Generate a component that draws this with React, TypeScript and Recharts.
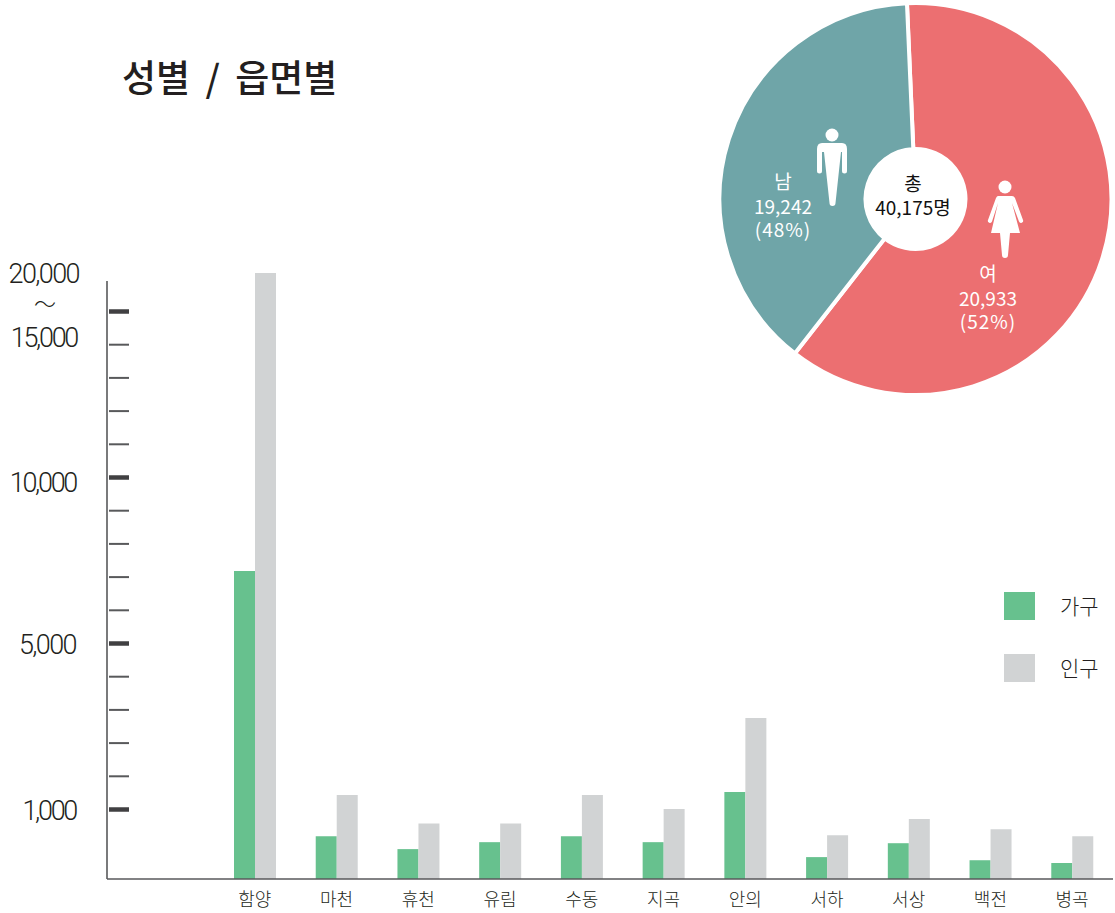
import { Bar, BarChart, Cell, Pie, PieChart, XAxis, YAxis } from "recharts"

const areas = ["함양", "마천", "휴천", "유림", "수동", "지곡", "안의", "서하", "서상", "백전", "병곡"]
const households = [7184, 614, 430, 530, 614, 530, 1422, 315, 515, 270, 230]
const population = [16160, 1349, 800, 800, 1349, 1012, 3205, 630, 863, 715, 615]

const yTicks = [1000, 1800, 2600, 3400, 4200, 5000, 6000, 7000, 8000, 9000, 10000, 11000, 12000, 13000, 14000, 15000]
const yLabels: Record<number, string> = { 1000: "1,000", 5000: "5,000", 10000: "10,000" }
const majorTicks = [1000, 5000, 10000, 15000]

const seriesNames = ["가구", "인구"]
const seriesColors = ["#67c18e", "#d1d3d4"]

const genders = ["여", "남"]
const genderCounts = ["20,933", "19,242"]
const genderPercents = ["(52%)", "(48%)"]
// the slices in the picture are not drawn to 52/48, so these are the drawn shares
const genderDrawnShares = [61.25, 38.75]
const genderColors = ["#ec6f71", "#6fa5a8"]

const WIDTH = 1115
const HEIGHT = 913
const AXIS_X = 107
const BASE_Y = 879
const TOP_Y = 281

// the value axis is broken: 0-1,000, 1,000-5,000, 5,000-10,000 and 10,000-15,000 all differ
const scaleKnots: [number, number][] = [
  [0, 0],
  [1000, 69.5],
  [5000, 235.5],
  [10000, 401.5],
  [15000, 567.5],
  [20000, 733.5],
]

function brokenScale() {
  let dom: number[] = [0, 1]
  let rng: number[] = [BASE_Y, TOP_Y]
  const s: any = (v: number) => {
    let i = 0
    while (i < scaleKnots.length - 2 && v > scaleKnots[i + 1][0]) i++
    const [v0, h0] = scaleKnots[i]
    const [v1, h1] = scaleKnots[i + 1]
    const h = h0 + ((v - v0) / (v1 - v0)) * (h1 - h0)
    return rng[0] - h
  }
  s.domain = (d?: number[]) => (d ? ((dom = d), s) : dom)
  s.range = (r?: number[]) => (r ? ((rng = r), s) : rng)
  s.copy = () => brokenScale().domain(dom).range(rng)
  s.ticks = () => yTicks
  s.bandwidth = () => 0
  return s
}

const barData = areas.map((area, i) => ({ area, households: households[i], population: population[i] }))
const pieData = genders.map((name, i) => ({ name, value: genderDrawnShares[i] }))

const axisFont = "Roboto, 'Liberation Sans', sans-serif"
const krFont = "'Noto Sans CJK KR', sans-serif"

function AxisLabel({ x, y, children }: any) {
  // the reference's "1" is narrower than Roboto's
  const spacing = String(children).startsWith("1") ? -2.3 : -1.6
  return (
    <text
      x={x}
      y={y}
      textAnchor="end"
      fontFamily={axisFont}
      fontWeight={300}
      fontSize={27}
      letterSpacing={spacing}
      fill="#231f20"
    >
      {children}
    </text>
  )
}

function YTick({ y, payload }: any) {
  const major = majorTicks.includes(payload.value)
  return (
    <g>
      <line
        x1={AXIS_X + 2}
        x2={AXIS_X + 22}
        y1={y}
        y2={y}
        stroke={major ? "#414042" : "#58595b"}
        strokeWidth={major ? 4.5 : 2}
      />
      {yLabels[payload.value] && (
        <AxisLabel x={76} y={payload.value === 10000 ? y + 14 : y + 10}>
          {yLabels[payload.value]}
        </AxisLabel>
      )}
    </g>
  )
}

function XTick({ x, y, payload }: any) {
  return (
    <text x={x} y={y + 19} textAnchor="middle" fontFamily={krFont} fontWeight={300} fontSize={18} fill="#231f20">
      {payload.value}
    </text>
  )
}

function PieText({ x, y, lines, fill, weight, size }: any) {
  return (
    <text textAnchor="middle" fontFamily={krFont} fontWeight={weight} fontSize={size} fill={fill}>
      {lines.map((l: string, i: number) => (
        <tspan key={i} x={x} y={y[i]} letterSpacing={l.startsWith("(") ? 1 : 0}>
          {l}
        </tspan>
      ))}
    </text>
  )
}

export default function App() {
  return (
    <div style={{ position: "absolute", left: 0, top: 0, width: WIDTH, height: HEIGHT, background: "#fff" }}>
      <BarChart
        width={WIDTH}
        height={HEIGHT}
        data={barData}
        barSize={21}
        barGap={0}
        margin={{ top: TOP_Y, right: WIDTH - 1113, bottom: 0, left: 0 }}
      >
        <XAxis
          dataKey="area"
          height={HEIGHT - BASE_Y}
          interval={0}
          padding={{ left: 107, right: 0 }}
          stroke="#58595b"
          strokeWidth={1.6}
          tickLine={false}
          tick={<XTick />}
        />
        <YAxis
          width={AXIS_X}
          scale={brokenScale() as any}
          domain={[0, 15900]}
          ticks={yTicks}
          interval={0}
          stroke="#58595b"
          strokeWidth={1.6}
          tickLine={false}
          tick={<YTick />}
        />
        <Bar dataKey="households" fill={seriesColors[0]} isAnimationActive={false} />
        <Bar dataKey="population" fill={seriesColors[1]} isAnimationActive={false} />
        <AxisLabel x={79} y={283}>20,000</AxisLabel>
        <text x={45} y={312} textAnchor="middle" fontFamily={krFont} fontWeight={300} fontSize={22} fill="#231f20">
          ～
        </text>
        <AxisLabel x={77} y={347}>15,000</AxisLabel>
      </BarChart>

      <div style={{ position: "absolute", left: 0, top: 0 }}>
        <PieChart width={WIDTH} height={410} margin={{ top: 0, right: 0, bottom: 0, left: 0 }}>
          <Pie
            data={pieData}
            dataKey="value"
            cx={915.5}
            cy={199}
            innerRadius={50}
            outerRadius={196}
            startAngle={92.5}
            endAngle={-267.5}
            stroke="#fff"
            strokeWidth={4}
            isAnimationActive={false}
          >
            {pieData.map((d, i) => (
              <Cell key={d.name} fill={genderColors[i]} />
            ))}
          </Pie>
        </PieChart>
      </div>

      {/* slice captions and pictograms sit above the pie */}
      <svg width={WIDTH} height={410} style={{ position: "absolute", left: 0, top: 0 }}>
        <PieText x={783} y={[189, 214, 237]} lines={[genders[1], genderCounts[1], genderPercents[1]]} fill="#fff" weight={400} size={19} />
        <PieText x={988} y={[281, 306, 329]} lines={[genders[0], genderCounts[0], genderPercents[0]]} fill="#fff" weight={400} size={19} />
        <PieText x={913} y={[191, 215]} lines={["총", "40,175명"]} fill="#111" weight={400} size={19} />
        <circle cx={832} cy={135} r={6.5} fill="#fff" />
        <path
          d="M822 143H842Q847 143 847 149V171a2.5 2.5 0 0 1-5 0V152H841L835.5 203a3 3 0 0 1-6 0L824 152H822V171a2.5 2.5 0 0 1-5 0V149Q817 143 822 143Z"
          fill="#fff"
        />
        <circle cx={1005} cy={187} r={6.5} fill="#fff" />
        <path
          d="M998 196H1012Q1014 196 1015 198L1023 220a2 2 0 0 1-4 1.5L1012 203L1020 233H1010L1008 255a3 3 0 0 1-6 0L1000 233H991L998 203L992 221.5a2 2 0 0 1-4-1.5L996 198Q997 196 998 196Z"
          fill="#fff"
        />
      </svg>

      <div
        style={{
          position: "absolute",
          left: 122,
          top: 51,
          fontFamily: krFont,
          fontWeight: 500,
          fontSize: 37,
          wordSpacing: 7,
          lineHeight: "50px",
          color: "#231f20",
          whiteSpace: "nowrap",
        }}
      >
        성별 / 읍면별
      </div>

      {seriesNames.map((name, i) => (
        <div key={name}>
          <div
            style={{
              position: "absolute",
              left: 1004,
              top: 592 + i * 62,
              width: 31,
              height: 28,
              background: seriesColors[i],
            }}
          />
          <div
            style={{
              position: "absolute",
              left: 1060,
              top: 589.5 + i * 62,
              fontFamily: krFont,
              fontWeight: 300,
              fontSize: 21,
              lineHeight: "30px",
              color: "#231f20",
            }}
          >
            {name}
          </div>
        </div>
      ))}
    </div>
  )
}
